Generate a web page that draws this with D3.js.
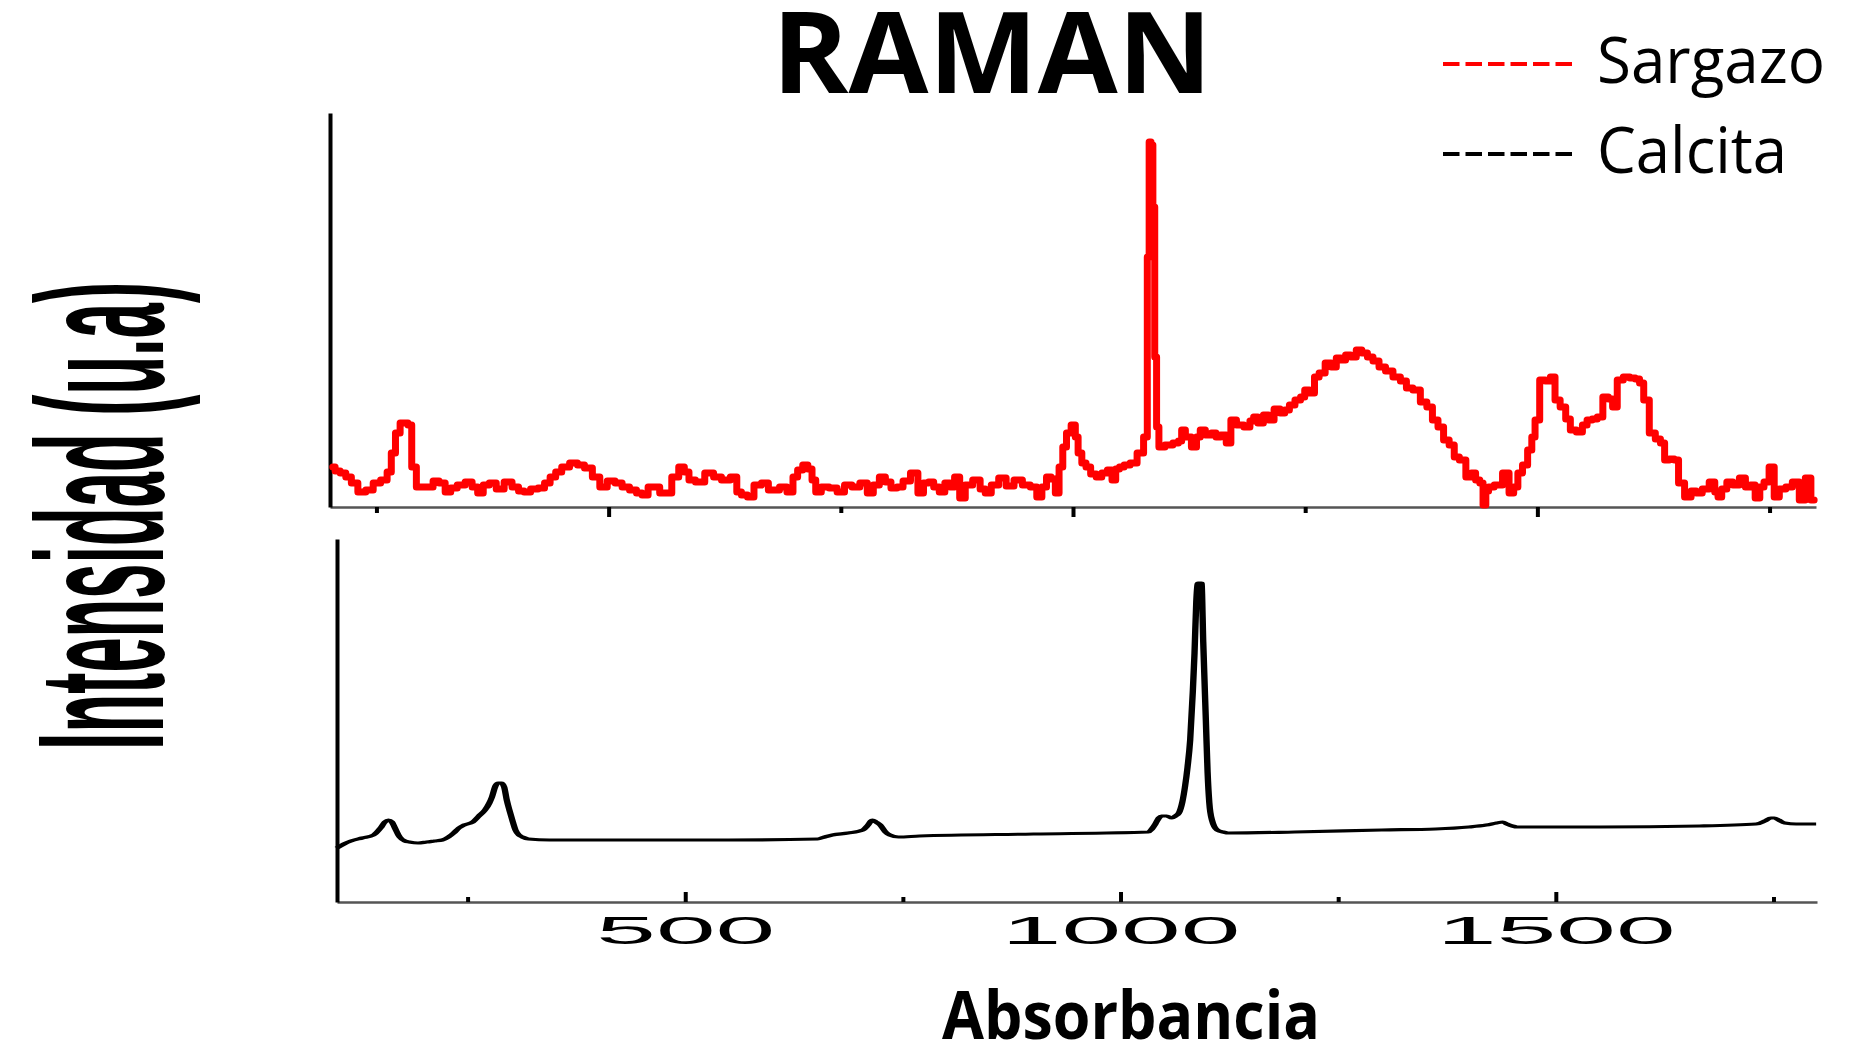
<!DOCTYPE html>
<html>
<head>
<meta charset="utf-8">
<script src="https://cdn.jsdelivr.net/npm/d3@7"></script>
<style>
  body { margin: 0; background: #fff; }
</style>
</head>
<body>
<div id="chart"></div>
<script>
// Sargazo spectrum (Raman shift, intensity in a.u.)
var sargazoWave = [203,208,214,220,226,234,243,250,259,264,268,273,278,282,286,290,296,308,314,321,
  327,333,341,350,356,362,368,375,383,392,400,406,412,420,428,434,440,446,453,463,
  470,478,487,494,503,511,518,527,533,539,546,552,558,564,572,579,584,589,598,609,
  617,626,636,640,646,653,660,669,675,680,688,696,701,706,712,717,721,725,733,742,
  750,758,766,775,782,788,795,801,807,814,820,830,836,842,847,853,859,865,870,875,
  881,887,897,903,908,916,924,932,941,950,958,964,969,974,979,983,987,991,995,1001,
  1004,1007,1012,1016,1022,1028,1034,1040,1044,1048,1052,1058,1065,1073,1079,1081,1083,1085,1087,1089,
  1091,1094,1104,1111,1116,1118,1124,1131,1135,1139,1146,1152,1156,1162,1168,1172,1180,1188,1193,1196,
  1202,1208,1213,1220,1226,1230,1236,1242,1248,1251,1258,1262,1268,1275,1281,1286,1291,1296,1302,1308,
  1314,1320,1326,1333,1340,1349,1356,1362,1370,1378,1384,1390,1396,1402,1408,1413,1419,1427,1431,1436,
  1440,1443,1446,1449,1458,1467,1472,1477,1481,1487,1492,1496,1499,1506,1511,1517,1521,1528,1533,1538,
  1546,1551,1556,1562,1567,1574,1579,1583,1589,1596,1603,1608,1612,1617,1624,1630,1635,1639,1645,1650,
  1654,1663,1668,1674,1681,1689,1693,1696,1701,1707,1714,1721,1727,1732,1737,1742,1746,1753,1757,1764,
  1771,1778,1786,1791,1798];
var sargazoInt = [40,36,34,30,24,15,17,24,27,35,54,74,84,84,82,40,20,20,26,24,
  15,19,22,25,20,14,22,24,18,25,20,16,15,18,19,24,30,35,40,44,
  42,39,30,20,26,24,20,17,14,12,20,20,14,14,30,40,35,27,25,34,
  30,27,30,15,12,10,22,24,17,17,20,15,30,37,42,38,27,15,20,19,
  15,22,20,24,14,22,30,25,19,20,26,34,14,24,25,20,15,24,20,30,
  9,22,27,18,14,22,29,21,27,22,20,10,20,30,28,14,40,60,74,82,
  70,54,44,40,33,30,34,37,27,38,40,42,44,54,70,250,365,362,300,150,
  80,60,62,64,66,77,70,60,70,77,72,74,70,72,64,87,82,80,86,90,
  84,92,87,98,94,97,102,107,110,117,114,130,134,144,140,149,147,152,150,157,
  154,150,146,140,136,130,126,119,117,105,100,87,80,67,62,50,47,30,34,27,
  24,2,16,20,22,34,14,20,34,42,57,70,87,127,126,130,107,100,88,77,
  75,82,87,88,90,110,108,100,127,130,129,128,124,107,74,68,64,47,48,47,
  24,10,16,14,18,25,15,10,18,25,22,29,20,22,9,20,25,40,10,18,
  20,25,7,29,7];

// Calcita spectrum
var calcitaWave = [100,108,116,129,142,150,155,159,163,166,172,178,183,193,203,212,221,228,234,240,
  246,256,263,270,275,278,282,285,289,292,295,298,302,305,309,313,320,344,400,475,
  550,652,660,669,687,704,710,715,719,724,730,735,745,769,900,1032,1036,1040,1044,1047,
  1053,1059,1063,1067,1071,1074,1077,1080,1083,1085,1087,1089,1093,1095,1098,1100,1102,1105,1111,1118,
  1124,1200,1300,1362,1400,1420,1432,1439,1444,1450,1456,1550,1665,1730,1740,1747,1751,1756,1763,1776,
  1799];
var calcitaInt = [54,58,61,64,67,74,80,82,80,75,65,61,60,59,60,61,62,65,69,74,
  77,80,86,92,99,105,116,119,119,115,102,92,80,72,67,65,63,62,62,62,
  62,63,65,67,69,72,77,82,80,77,70,67,65,66,68,70,73,78,84,86,
  86,84,86,89,100,115,135,162,210,249,300,319,319,260,182,130,99,82,72,70,
  69,70,72,73,75,77,79,80,78,76,75,75,76,78,81,84,84,82,79,78,
  78];

var tickValues = [250, 500, 750, 1000, 1250, 1500, 1750];
var seriesNames = ["Sargazo", "Calcita"];
var seriesColors = ["#ff0000", "#000000"];

var W = 1869, H = 1049;
var svg = d3.select("#chart").append("svg")
    .attr("width", W)
    .attr("height", H);

// panel boxes
var panelA = { left: 330, right: 1816, top: 113, bottom: 507 };
var panelB = { left: 337, right: 1817, top: 539, bottom: 902 };

var xA = d3.scaleLinear().domain([200, 1800]).range([panelA.left, panelA.right]);
var yA = d3.scaleLinear().domain([0, 394]).range([panelA.bottom, panelA.top]);
var xB = d3.scaleLinear().domain([100, 1800]).range([panelB.left, panelB.right]);
var yB = d3.scaleLinear().domain([0, 363]).range([panelB.bottom, panelB.top]);

var isMajor = function (d) { return d % 500 === 0; };

// upper x axis (ticks outward, no labels)
var gxA = svg.append("g")
    .attr("transform", "translate(0," + panelA.bottom + ")")
    .call(d3.axisBottom(xA).tickValues(tickValues).tickFormat("").tickSizeOuter(0));
gxA.select(".domain").attr("stroke", "#555").attr("stroke-width", 2.5);
gxA.selectAll(".tick line")
    .attr("stroke", "#000").attr("stroke-width", 4)
    .attr("y2", function (d) { return isMajor(d) ? 10 : 6; });

// lower x axis (ticks inward, labels on majors)
var gxB = svg.append("g")
    .attr("transform", "translate(0," + panelB.bottom + ")")
    .call(d3.axisBottom(xB).tickValues(tickValues)
        .tickFormat(function (d) { return isMajor(d) ? d : ""; })
        .tickSizeOuter(0));
gxB.select(".domain").attr("stroke", "#555").attr("stroke-width", 2.5);
gxB.selectAll(".tick line")
    .attr("stroke", "#000").attr("stroke-width", 4)
    .attr("y2", function (d) { return isMajor(d) ? -10 : -5; });
gxB.selectAll(".tick text")
    .attr("y", 42).attr("dy", 0)
    .attr("font-family", "Liberation Sans, Arial, sans-serif")
    .attr("font-size", 39)
    .attr("fill", "#000")
    .attr("transform", "scale(2.75,1)");

// y axes, plain lines
var gyA = svg.append("g")
    .attr("transform", "translate(" + panelA.left + ",0)")
    .call(d3.axisLeft(yA).tickValues([]).tickSizeOuter(0));
gyA.select(".domain").attr("stroke", "#000").attr("stroke-width", 4);
var gyB = svg.append("g")
    .attr("transform", "translate(" + panelB.left + ",0)")
    .call(d3.axisLeft(yB).tickValues([]).tickSizeOuter(0));
gyB.select(".domain").attr("stroke", "#000").attr("stroke-width", 4);

// spectra
var lineA = d3.line()
    .curve(d3.curveStep)
    .x(function (d) { return xA(d[0]); })
    .y(function (d) { return yA(d[1]); });

// the calcita trace looks horizontally stretched (steep parts drawn thicker):
// draw it at half width and stretch the group back
var stretch = 2;
var xBHalf = xB.copy().range([panelB.left / stretch, panelB.right / stretch]);
var lineB = d3.line()
    .curve(d3.curveMonotoneX)
    .x(function (d) { return xBHalf(d[0]); })
    .y(function (d) { return yB(d[1]); });

svg.append("path")
    .datum(d3.zip(sargazoWave, sargazoInt))
    .attr("fill", "none")
    .attr("stroke", seriesColors[0])
    .attr("stroke-width", 7)
    .attr("stroke-linejoin", "round")
    .attr("stroke-linecap", "round")
    .attr("d", lineA);

svg.append("g")
    .attr("transform", "scale(" + stretch + ",1)")
    .append("path")
    .datum(d3.zip(calcitaWave, calcitaInt))
    .attr("fill", "none")
    .attr("stroke", seriesColors[1])
    .attr("stroke-width", 3.2)
    .attr("stroke-linejoin", "round")
    .attr("d", lineB);

// title
svg.append("text")
    .attr("x", 992).attr("y", 93)
    .attr("text-anchor", "middle")
    .attr("font-family", "Open Sans, sans-serif")
    .attr("font-weight", 700)
    .attr("font-size", 113)
    .attr("textLength", 440)
    .attr("lengthAdjust", "spacingAndGlyphs")
    .text("RAMAN");

// x label
svg.append("text")
    .attr("x", 1131).attr("y", 1039)
    .attr("text-anchor", "middle")
    .attr("font-family", "Open Sans, sans-serif")
    .attr("font-weight", 700)
    .attr("font-size", 66)
    .attr("textLength", 378)
    .attr("lengthAdjust", "spacingAndGlyphs")
    .text("Absorbancia");

// y label, heavily condensed
svg.append("text")
    .attr("transform", "translate(163,750) rotate(-90)")
    .attr("font-family", "Liberation Sans, Arial, sans-serif")
    .attr("font-weight", 700)
    .attr("font-size", 180)
    .attr("textLength", 468)
    .attr("lengthAdjust", "spacingAndGlyphs")
    .text("Intensidad (u.a)");

// legend
var legendY = [64, 154];
var legendTextY = [83, 173];
var legendW = [228, 190];
var legend = svg.append("g");
seriesNames.forEach(function (name, i) {
    legend.append("line")
        .attr("x1", 1443).attr("x2", 1573)
        .attr("y1", legendY[i]).attr("y2", legendY[i])
        .attr("stroke", seriesColors[i])
        .attr("stroke-width", 4)
        .attr("stroke-dasharray", "16.5,6");
    legend.append("text")
        .attr("x", 1597).attr("y", legendTextY[i])
        .attr("font-family", "Open Sans, sans-serif")
        .attr("font-size", 64)
        .attr("textLength", legendW[i])
        .attr("lengthAdjust", "spacingAndGlyphs")
        .text(name);
});
</script>
</body>
</html>
